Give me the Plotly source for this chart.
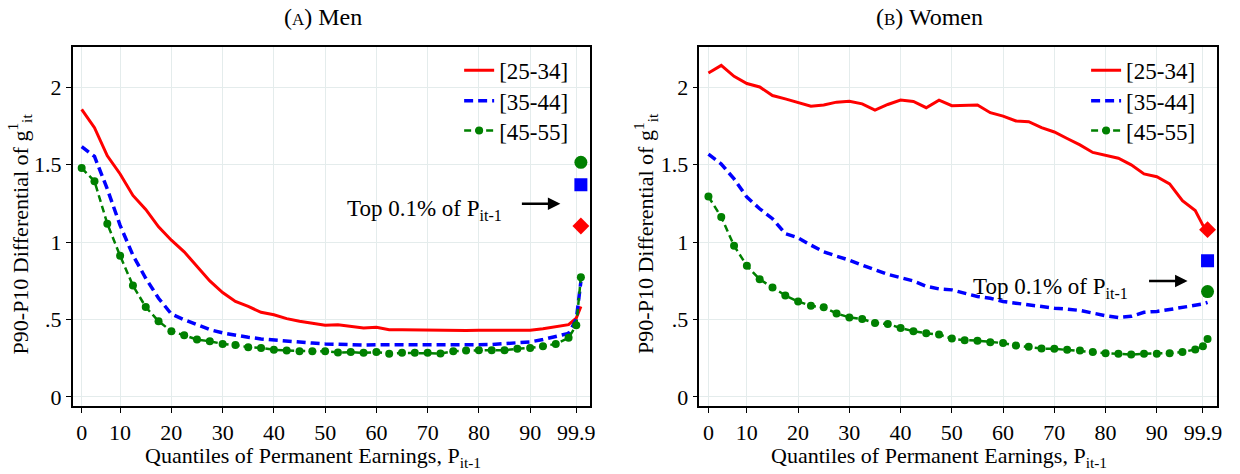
import plotly.graph_objects as go

# ---------------- data ----------------
quantiles = [2.5, 5, 7.5, 10, 12.5, 15, 17.5, 20, 22.5, 25, 27.5, 30, 32.5, 35, 37.5,
             40, 42.5, 45, 47.5, 50, 52.5, 55, 57.5, 60, 62.5, 65, 67.5, 70, 72.5, 75,
             77.5, 80, 82.5, 85, 87.5, 90, 92.5, 95, 97.5, 99, 99.9]

men_25_34 = [1.857, 1.739, 1.557, 1.440, 1.301, 1.211, 1.098, 1.012, 0.937, 0.841,
             0.749, 0.674, 0.616, 0.584, 0.546, 0.530, 0.505, 0.488, 0.477, 0.462,
             0.466, 0.456, 0.445, 0.449, 0.434, 0.434, 0.432, 0.430, 0.429, 0.428,
             0.428, 0.430, 0.430, 0.430, 0.430, 0.430, 0.440, 0.451, 0.466, 0.509, 0.584]
men_35_44 = [1.617, 1.553, 1.343, 1.108, 0.915, 0.766, 0.637, 0.535, 0.498, 0.466,
             0.434, 0.413, 0.398, 0.385, 0.374, 0.366, 0.359, 0.353, 0.347, 0.342,
             0.338, 0.336, 0.334, 0.336, 0.338, 0.337, 0.336, 0.335, 0.334, 0.334,
             0.334, 0.336, 0.338, 0.342, 0.349, 0.355, 0.370, 0.391, 0.410, 0.500, 0.745]
men_45_55 = [1.478, 1.393, 1.119, 0.911, 0.719, 0.580, 0.488, 0.424, 0.398, 0.370,
             0.359, 0.342, 0.334, 0.321, 0.316, 0.304, 0.299, 0.295, 0.295, 0.295,
             0.286, 0.289, 0.284, 0.289, 0.278, 0.284, 0.284, 0.284, 0.280, 0.295,
             0.299, 0.301, 0.301, 0.301, 0.310, 0.316, 0.327, 0.342, 0.381, 0.462, 0.772]

women_25_34 = [2.092, 2.141, 2.071, 2.024, 2.002, 1.947, 1.925, 1.900, 1.878, 1.885,
               1.904, 1.910, 1.893, 1.852, 1.889, 1.917, 1.908, 1.868, 1.917, 1.881,
               1.881, 1.885, 1.836, 1.814, 1.782, 1.778, 1.739, 1.711, 1.669, 1.628,
               1.579, 1.562, 1.542, 1.499, 1.440, 1.422, 1.376, 1.268, 1.204, 1.108, 1.065]
women_35_44 = [1.568, 1.504, 1.408, 1.290, 1.215, 1.151, 1.055, 1.027, 0.980, 0.937,
               0.909, 0.883, 0.851, 0.819, 0.791, 0.770, 0.749, 0.714, 0.697, 0.691,
               0.669, 0.648, 0.637, 0.616, 0.605, 0.594, 0.584, 0.573, 0.567, 0.558,
               0.541, 0.524, 0.513, 0.520, 0.546, 0.552, 0.564, 0.577, 0.590, 0.600, 0.610]
women_45_55 = [1.294, 1.162, 0.976, 0.847, 0.759, 0.706, 0.655, 0.616, 0.588, 0.578,
               0.539, 0.513, 0.503, 0.477, 0.470, 0.445, 0.424, 0.411, 0.402, 0.376,
               0.366, 0.363, 0.353, 0.347, 0.331, 0.323, 0.312, 0.310, 0.304, 0.299,
               0.289, 0.282, 0.278, 0.273, 0.278, 0.278, 0.282, 0.289, 0.306, 0.327, 0.374]

top_x = 99.9
men_top = {"[25-34]": 1.104, "[35-44]": 1.371, "[45-55]": 1.515}
women_top = {"[25-34]": 1.080, "[35-44]": 0.879, "[45-55]": 0.680}

x_tickvals = [2.5, 10, 20, 30, 40, 50, 60, 70, 80, 90, 99]
x_ticktext = ["0", "10", "20", "30", "40", "50", "60", "70", "80", "90", "99.9"]
y_tickvals = [0, 0.5, 1, 1.5, 2]
y_ticktext = ["0", ".5", "1", "1.5", "2"]

groups = ["[25-34]", "[35-44]", "[45-55]"]
colors = {"[25-34]": "#ff0000", "[35-44]": "#0000ff", "[45-55]": "#008000"}
top_symbols = {"[25-34]": "diamond", "[35-44]": "square", "[45-55]": "circle"}

FONT = "Liberation Serif"
W, H = 1240, 474


def fx(px):
    return px / W


def fy(py):
    return 1 - py / H


fig = go.Figure()

panels = [
    ("x", "y", {"[25-34]": men_25_34, "[35-44]": men_35_44, "[45-55]": men_45_55}, men_top, 461),
    ("x2", "y2", {"[25-34]": women_25_34, "[35-44]": women_35_44, "[45-55]": women_45_55}, women_top, 1090.5),
]
legend_rows = [70.7, 101.5, 131.5]

layout_legends = {}
lg_idx = 0
for xa, ya, series, tops, lgx in panels:
    for gi, g in enumerate(groups):
        c = colors[g]
        if g == "[25-34]":
            kw = dict(mode="lines", line=dict(color=c, width=3))
        elif g == "[35-44]":
            kw = dict(mode="lines", line=dict(color=c, width=3.5, dash="9px,5px"))
        else:
            kw = dict(mode="lines+markers", line=dict(color=c, width=2.5, dash="7px,4px"),
                      marker=dict(color=c, size=8, symbol="circle"))
        lg_idx += 1
        lname = "legend" if lg_idx == 1 else "legend%d" % lg_idx
        layout_legends[lname] = dict(x=fx(lgx), xanchor="left", y=fy(legend_rows[gi]),
                                     yanchor="middle", bgcolor="rgba(0,0,0,0)",
                                     font=dict(family=FONT, size=23, color="black"))
        fig.add_trace(go.Scatter(x=quantiles, y=series[g], name=g, xaxis=xa, yaxis=ya,
                                 legend=lname, **kw))
    for g in groups:
        fig.add_trace(go.Scatter(x=[top_x], y=[tops[g]], mode="markers", xaxis=xa, yaxis=ya,
                                 showlegend=False, name=g + " top 0.1%",
                                 marker=dict(color=colors[g], size=13, symbol=top_symbols[g],
                                             line=dict(width=0))))

ydom = [fy(409), fy(47.5)]
axis_common = dict(showline=True, linecolor="black", linewidth=1.5, mirror=True,
                   ticks="outside", ticklen=5, tickwidth=1.2, tickcolor="black",
                   showgrid=True, gridcolor="#e4ecec", gridwidth=1, zeroline=False,
                   tickfont=dict(family=FONT, size=22, color="black"))

xcommon = dict(axis_common, range=[0.75, 101.7], tickmode="array",
               tickvals=x_tickvals, ticktext=x_ticktext)
ycommon = dict(axis_common, range=[-0.062, 2.259], tickmode="array",
               tickvals=y_tickvals, ticktext=y_ticktext, domain=ydom)

fig.update_layout(
    width=W, height=H, margin=dict(l=0, r=0, t=0, b=0),
    paper_bgcolor="white", plot_bgcolor="white",
    font=dict(family=FONT, size=22, color="black"),
    xaxis=dict(xcommon, domain=[fx(73), fx(592.5)], anchor="y"),
    yaxis=dict(ycommon, anchor="x"),
    xaxis2=dict(xcommon, domain=[fx(702.3), fx(1221.7)], anchor="y2"),
    yaxis2=dict(ycommon, anchor="x2"),
    showlegend=True,
    **layout_legends,
)

ann = []
P = dict(xref="paper", yref="paper", showarrow=False, xanchor="center", yanchor="middle")
# panel titles
ann.append(dict(P, text="(<span style='font-size:17px'>A</span>) Men", x=fx(324), y=fy(17),
                font=dict(family=FONT, size=24)))
ann.append(dict(P, text="(<span style='font-size:17px'>B</span>) Women", x=fx(933), y=fy(17),
                font=dict(family=FONT, size=24)))
# axis titles
ytitle = "P90-P10 Differential of g<sup>1</sup><sub>it</sub>"
xtitle = "Quantiles of Permanent Earnings, P<sub>it-1</sub>"
for xc in (20, 648):
    ann.append(dict(P, text=ytitle, x=fx(xc), y=fy(235), textangle=-90,
                    font=dict(family=FONT, size=22)))
for xc in (314.5, 942.7):
    ann.append(dict(P, text=xtitle, x=fx(xc), y=fy(459.5),
                    font=dict(family=FONT, size=22)))
# "Top 0.1%" notes and arrows
for xa, ya, tx, ty, hx, hy in (("x", "y", 84.9, 1.206, 95.9, 1.247),
                               ("x2", "y2", 84.8, 0.703, 96.0, 0.748)):
    ann.append(dict(text="Top 0.1% of P<sub>it-1</sub>", x=tx, y=ty, xref=xa, yref=ya,
                    xanchor="right", yanchor="middle", showarrow=False,
                    font=dict(family=FONT, size=23)))
    ann.append(dict(text="", x=hx, y=hy, xref=xa, yref=ya, ax=-40, ay=0,
                    showarrow=True, arrowhead=2, arrowsize=1, arrowwidth=2.5,
                    arrowcolor="black"))
fig.update_layout(annotations=ann)

fig.write_html("out.html", config={"displayModeBar": False},
               post_script="document.body.style.margin='0';")
